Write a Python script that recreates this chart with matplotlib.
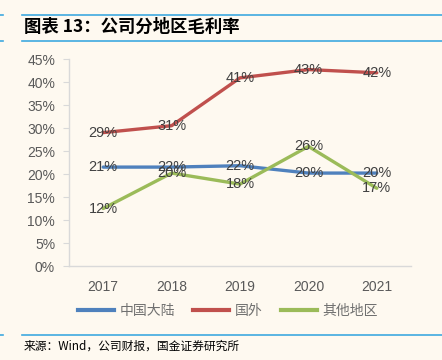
import matplotlib
matplotlib.use('Agg')
import matplotlib.pyplot as plt
from matplotlib.lines import Line2D

plt.rcParams['font.family'] = ['Liberation Sans', 'Noto Sans CJK SC', 'DejaVu Sans']

years = ['2017', '2018', '2019', '2020', '2021']
mainland = [21.5, 21.5, 21.8, 20.2, 20.2]
overseas = [29.0, 30.5, 40.9, 42.7, 42.0]
others = [12.5, 20.2, 17.8, 26.0, 16.9]
labels_mainland = ['21%', '22%', '22%', '20%', '20%']
labels_overseas = ['29%', '31%', '41%', '43%', '42%']
labels_others = ['12%', '20%', '18%', '26%', '17%']
yticks = [0, 5, 10, 15, 20, 25, 30, 35, 40, 45]

bg = '#FEF9F0'
W, H = 442, 360
fig = plt.figure(figsize=(W / 100, H / 100), dpi=100, facecolor=bg)
ax = fig.add_axes([69 / W, 1 - 266 / H, (411 - 69) / W, (266 - 59) / H])
ax.set_facecolor(bg)

x = range(len(years))
series = [(mainland, labels_mainland, '#4F81BD', '中国大陆'),
          (overseas, labels_overseas, '#C0504D', '国外'),
          (others, labels_others, '#9BBB59', '其他地区')]
for vals, labs, c, name in series:
    ax.plot(x, vals, color=c, lw=2.4, solid_capstyle='round')
for vals, labs, c, name in series:
    for i, v in enumerate(vals):
        ax.text(i, v, labs[i], ha='center', va='center', fontsize=10.5, color='#404040')

ax.set_xlim(-0.5, 4.5)
ax.set_ylim(0, 45)
ax.set_yticks(yticks)
ax.set_yticklabels([f'{t}%' for t in yticks])
ax.set_xticks(list(x))
ax.set_xticklabels(years)
ax.tick_params(axis='y', length=4, color='#D9D9D9', labelcolor='#595959', labelsize=10, pad=6)
ax.tick_params(axis='x', length=0, labelcolor='#595959', labelsize=10, pad=10)
for s in ['top', 'right']:
    ax.spines[s].set_visible(False)
for s in ['left', 'bottom']:
    ax.spines[s].set_color('#D9D9D9')
    ax.spines[s].set_linewidth(1)

handles = [Line2D([0], [0], color=c, lw=3) for _, _, c, _ in series]
fig.legend(handles, [n for *_, n in series], loc='center', bbox_to_anchor=(228 / W, 1 - 311 / H),
           ncol=3, frameon=False, handlelength=2.6, columnspacing=1.3, handletextpad=0.4,
           labelcolor='#707070', prop={'family': ['Noto Sans CJK SC'], 'size': 10})

# frame lines
for yy in [15, 41, 335]:
    fig.add_artist(Line2D([22 / W, 1], [1 - yy / H] * 2, color='#3FA9E0', lw=1.2))
    fig.add_artist(Line2D([0, 3 / W], [1 - yy / H] * 2, color='#3FA9E0', lw=1.2))

fig.text(24 / W, 1 - 27 / H, '图表 13：公司分地区毛利率', fontsize=12.5, fontweight='bold', style='italic',
         va='center', ha='left', color='black', family=['Noto Sans CJK SC', 'DejaVu Sans'])
fig.text(24 / W, 1 - 346 / H, '来源：Wind，公司财报，国金证券研究所', fontsize=8.5, va='center', ha='left',
         color='black', family=['Noto Sans CJK SC', 'DejaVu Sans'])

plt.savefig('out.png', dpi=100, facecolor=bg)
